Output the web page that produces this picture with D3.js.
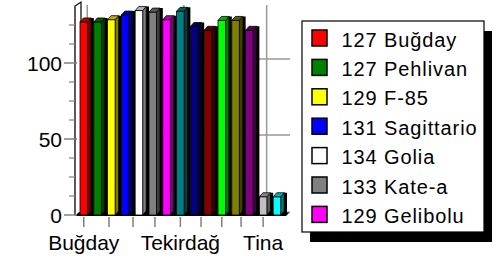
<!DOCTYPE html>
<html><head><meta charset="utf-8">
<script src="https://cdn.jsdelivr.net/npm/d3@7/dist/d3.min.js"></script>
<style>body{margin:0;background:#fff}svg{display:block}text{font-family:"Liberation Sans",Arial,sans-serif}</style>
</head><body><svg id="c" width="495" height="262"></svg>
<script>
// ---- data ----
const categories = ["Buğday", "Tekirdağ", "Tina"];
const categoryAt = [0, 7, 13];                 // bar index where each category label sits
const xTickAt = [0, 1.83, 3.57, 5.16, 7, 8.5, 10, 11.4, 13]; // tick marks (bar index units)
const values = [127, 127, 128.5, 131.5, 134.5, 133.5, 128.5, 134, 124, 121.5, 128, 128, 121.5, 12, 12];
const colors = ["#ff0000","#008000","#ffff00","#0000ff","#ffffff","#808080","#ff00ff","#008080","#000080","#800000","#00ff00","#808000","#800080","#c0c0c0","#00ffff"];
const legendNames = ["127 Buğday","127 Pehlivan","129 F-85","131 Sagittario","134 Golia","133 Kate-a","129 Gelibolu"];
const yMajor = [0, 50, 100];
const yMinor = [12.5, 25, 37.5, 62.5, 75, 87.5, 112.5, 125];

// ---- layout ----
const svg = d3.select("#c");
const y = d3.scaleLinear().domain([0, 137.5]).range([215, 6]);
const x = d3.scaleLinear().domain([0, 14]).range([80, 273.2]);
const bw = 7.5, dx = 3.5, dy = 4;
const y0 = y(0);
const xc = i => x(i) + bw / 2;
const axisX = 75;

// back wall gridlines
const g = svg.append("g");
yMajor.slice(1).forEach(v => {
  g.append("line").attr("x1", axisX + 4).attr("x2", 290).attr("y1", y(v) - dy).attr("y2", y(v) - dy)
    .attr("stroke", "#999").attr("stroke-width", 1.5);
});
categoryAt.forEach(i => {
  g.append("line").attr("x1", xc(i) + dx).attr("x2", xc(i) + dx).attr("y1", y(137.5) - 1).attr("y2", y0 - dy)
    .attr("stroke", "#999").attr("stroke-width", 1.5);
});

// left wall
svg.append("path")
  .attr("d", `M${axisX},${y0}L${axisX},${y(137.5)}L${axisX + 6},${y(137.5) - 4}L${axisX + 6},${y0 - 4}`)
  .attr("fill", "#fff").attr("stroke", "#000").attr("stroke-width", 1.2);

// floor
svg.append("path")
  .attr("d", `M${axisX},${y0 + 1}L286,${y0 + 1}L290,${y0 - 3}L${axisX + 4},${y0 - 3}Z`)
  .attr("fill", "#000");
svg.append("line").attr("x1", 258).attr("x2", 290).attr("y1", y0 - 3).attr("y2", y0 - 3).attr("stroke", "#999");

// bars
const bars = svg.append("g");
values.forEach((v, i) => {
  const xl = x(i), xr = xl + bw, yt = y(v);
  const c = d3.color(colors[i]);
  // shadow
  bars.append("path")
    .attr("d", `M${xr + dx},${yt - dy}L${xr + dx + 2.8},${yt - dy}L${xr + dx + 2.8},${y0}L${xr},${y0}Z`)
    .attr("fill", "#000");
  // side
  bars.append("path")
    .attr("d", `M${xr},${yt}L${xr + dx},${yt - dy}L${xr + dx},${y0 - dy}L${xr},${y0}Z`)
    .attr("fill", c.darker(2)).attr("stroke", "#000").attr("stroke-width", 0.8);
  // front
  bars.append("rect").attr("x", xl).attr("y", yt).attr("width", bw).attr("height", y0 - yt)
    .attr("fill", c).attr("stroke", "#000").attr("stroke-width", 0.8);
  // top
  bars.append("path")
    .attr("d", `M${xl},${yt}L${xl + dx},${yt - dy}L${xr + dx},${yt - dy}L${xr},${yt}Z`)
    .attr("fill", c.darker(1)).attr("stroke", "#000").attr("stroke-width", 0.8);
});

// y axis
svg.append("line").attr("x1", axisX).attr("x2", axisX).attr("y1", y0).attr("y2", y(137.5))
  .attr("stroke", "#555").attr("stroke-width", 1.2);
yMajor.forEach(v => {
  svg.append("line").attr("x1", 64).attr("x2", 77).attr("y1", y(v)).attr("y2", y(v)).attr("stroke", "#808080").attr("stroke-width", 1.5);
  svg.append("text").attr("x", 62).attr("y", y(v) + 7.5).attr("text-anchor", "end")
    .attr("font-size", 21).text(v);
});
yMinor.forEach(v => {
  svg.append("line").attr("x1", 69).attr("x2", 75).attr("y1", y(v)).attr("y2", y(v)).attr("stroke", "#808080").attr("stroke-width", 1.2);
});

// x axis ticks and labels
xTickAt.forEach(t => {
  svg.append("line").attr("x1", xc(t)).attr("x2", xc(t)).attr("y1", y0 + 2).attr("y2", y0 + 12)
    .attr("stroke", "#808080").attr("stroke-width", 1.5);
});
categories.forEach((name, k) => {
  svg.append("text").attr("x", xc(categoryAt[k])).attr("y", 250).attr("text-anchor", "middle")
    .attr("font-size", 21).text(name);
});

// legend
const lg = svg.append("g");
lg.append("rect").attr("x", 310).attr("y", 31).attr("width", 182).attr("height", 211).attr("fill", "#000");
lg.append("rect").attr("x", 302).attr("y", 21).attr("width", 182).attr("height", 211)
  .attr("fill", "#fff").attr("stroke", "#000").attr("stroke-width", 1.2);
const ly = d3.scaleLinear().domain([0, 6]).range([46.5, 222.9]);
legendNames.forEach((name, i) => {
  lg.append("rect").attr("x", 312).attr("y", ly(i) - 16.5).attr("width", 15).attr("height", 16)
    .attr("fill", colors[i]).attr("stroke", "#000").attr("stroke-width", 1.5);
  lg.append("text").attr("x", 341.5).attr("y", ly(i)).attr("font-size", 20)
    .attr("letter-spacing", 0.9).text(name);
});
</script></body></html>
